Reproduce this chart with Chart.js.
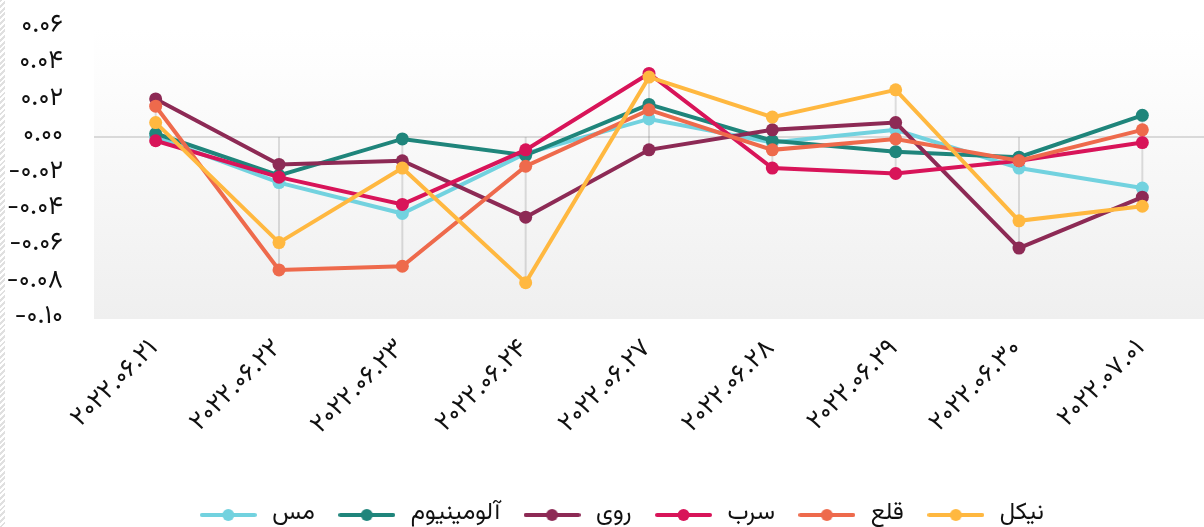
<!DOCTYPE html>
<html lang="fa">
<head>
<meta charset="utf-8">
<script src="https://cdn.jsdelivr.net/npm/chart.js@4.4.1/dist/chart.umd.min.js"></script>
<style>
  html, body { margin: 0; padding: 0; background: #fff; }
  #wrap { position: relative; width: 1204px; height: 527px; }
  #hatch { position: absolute; left: 0; top: 0; width: 5px; height: 527px;
    background: repeating-linear-gradient(135deg, #e0e0e0 0 2px, #fff 2px 4px); }
  canvas { position: absolute; left: 0; top: 0; }
</style>
</head>
<body>
<div id="wrap"><div id="hatch"></div><canvas id="lineChart"></canvas></div>
<script>
const labels = ["2022.06.21", "2022.06.22", "2022.06.23", "2022.06.24", "2022.06.27",
  "2022.06.28", "2022.06.29", "2022.06.30", "2022.07.01"];

const nickel    = [0.008, -0.058, -0.017, -0.080, 0.033, 0.011, 0.026, -0.046, -0.038];
const tin       = [0.017, -0.073, -0.071, -0.016, 0.015, -0.007, -0.001, -0.013, 0.004];
const lead      = [-0.002, -0.022, -0.037, -0.007, 0.035, -0.017, -0.020, -0.013, -0.003];
const zinc      = [0.021, -0.015, -0.013, -0.044, -0.007, 0.004, 0.008, -0.061, -0.033];
const aluminium = [0.002, -0.021, -0.001, -0.010, 0.018, -0.002, -0.008, -0.011, 0.012];
const copper    = [0.000, -0.025, -0.042, -0.009, 0.010, -0.003, 0.004, -0.017, -0.028];

const yTicks = { min: -0.1, max: 0.06, step: 0.02 };

const FONT = "'Vazirmatn', 'DejaVu Sans', sans-serif";

const faDigits = (s) => String(s).replace(/[0-9]/g, (d) => "۰۱۲۳۴۵۶۷۸۹"[d]);

// legend icon: short line with a dot in the middle
const makeIcon = (color) => {
  const c = document.createElement("canvas");
  c.width = 57;
  c.height = 14;
  const g = c.getContext("2d");
  g.strokeStyle = color;
  g.lineWidth = 4;
  g.lineCap = "round";
  g.beginPath();
  g.moveTo(2, 7);
  g.lineTo(55, 7);
  g.stroke();
  g.fillStyle = color;
  g.beginPath();
  g.arc(28.5, 7, 6, 0, Math.PI * 2);
  g.fill();
  return c;
};

const series = [
  { label: "نیکل", data: nickel, color: "#ffb840" },
  { label: "قلع", data: tin, color: "#ee6a4c" },
  { label: "سرب", data: lead, color: "#d81459" },
  { label: "روی", data: zinc, color: "#8d2a55" },
  { label: "آلومینیوم", data: aluminium, color: "#1f857b" },
  { label: "مس", data: copper, color: "#72d2df" },
];
const icons = series.map((s) => makeIcon(s.color));

// plot background gradient + vertical drop lines
const plotDecor = {
  id: "plotDecor",
  beforeDraw(chart) {
    const { ctx, chartArea: a } = chart;
    const grad = ctx.createLinearGradient(0, a.top, 0, a.bottom);
    grad.addColorStop(0, "#ffffff");
    grad.addColorStop(0.15, "#fdfdfd");
    grad.addColorStop(1, "#efefef");
    ctx.save();
    ctx.fillStyle = grad;
    ctx.fillRect(a.left, a.top, a.right - a.left, a.bottom - a.top);
    ctx.restore();
  },
  beforeDatasetsDraw(chart) {
    const { ctx, scales } = chart;
    ctx.save();
    ctx.strokeStyle = "rgba(0,0,0,0.12)";
    ctx.lineWidth = 2;
    labels.forEach((lab, i) => {
      const vals = series.map((s) => s.data[i]);
      const hi = Math.max(0, ...vals);
      const lo = Math.min(0, ...vals);
      const x = scales.x.getPixelForValue(i);
      ctx.beginPath();
      ctx.moveTo(x, scales.y.getPixelForValue(hi));
      ctx.lineTo(x, scales.y.getPixelForValue(lo));
      ctx.stroke();
    });
    ctx.restore();
  },
  afterLayout(chart) {
    const lg = chart.legend;
    lg.top += 10;
    lg.bottom += 10;
    lg.left += 18;
    lg.right += 18;
  },
};

const ctx = document.getElementById("lineChart");

new Chart(ctx, {
  type: "line",
  data: {
    labels: labels,
    datasets: series.map((s) => ({
      label: s.label,
      data: s.data,
      borderColor: s.color,
      backgroundColor: s.color,
      pointBackgroundColor: s.color,
      pointBorderColor: s.color,
      pointBorderWidth: 0,
      pointRadius: 6.5,
      borderWidth: 4,
      tension: 0,
      fill: false,
    })),
  },
  options: {
    responsive: true,
    maintainAspectRatio: false,
    animation: false,
    layout: { autoPadding: false, padding: { top: 28, right: 0, left: 0, bottom: 0 } },
    scales: {
      x: {
        offset: true,
        grid: { display: false },
        border: { display: false },
        ticks: {
          color: "#111",
          font: { family: FONT, size: 26 },
          minRotation: 45,
          maxRotation: 45,
          autoSkip: false,
          padding: 8,
          callback: (v, i) => faDigits(labels[i]),
        },
        afterFit: (scale) => {
          scale.height = 154;
          scale.paddingLeft = 0;
          scale.paddingRight = 0;
        },
      },
      y: {
        min: yTicks.min,
        max: yTicks.max,
        border: { display: false },
        grid: {
          drawTicks: false,
          lineWidth: 2,
          color: (c) => (c.tick && Math.abs(c.tick.value) < 1e-9 ? "#d9d9d9" : "transparent"),
        },
        ticks: {
          stepSize: yTicks.step,
          autoSkip: false,
          color: "#111",
          padding: 31,
          font: { family: FONT, size: 26 },
          callback: (v) => faDigits(Number(v).toFixed(2)),
        },
        afterFit: (scale) => {
          scale.width = 94;
          scale.paddingTop = 0;
          scale.paddingBottom = 0;
        },
      },
    },
    plugins: {
      tooltip: { enabled: false },
      legend: {
        position: "bottom",
        labels: {
          usePointStyle: true,
          pointStyleWidth: 64,
          boxHeight: 14,
          padding: 20,
          color: "#111",
          font: { family: FONT, size: 24 },
          sort: (a, b) => b.datasetIndex - a.datasetIndex,
          generateLabels(chart) {
            const items = Chart.defaults.plugins.legend.labels.generateLabels(chart);
            items.forEach((it) => { it.pointStyle = icons[it.datasetIndex]; });
            return items;
          },
        },
      },
    },
  },
  plugins: [plotDecor],
});
</script>
</body>
</html>
